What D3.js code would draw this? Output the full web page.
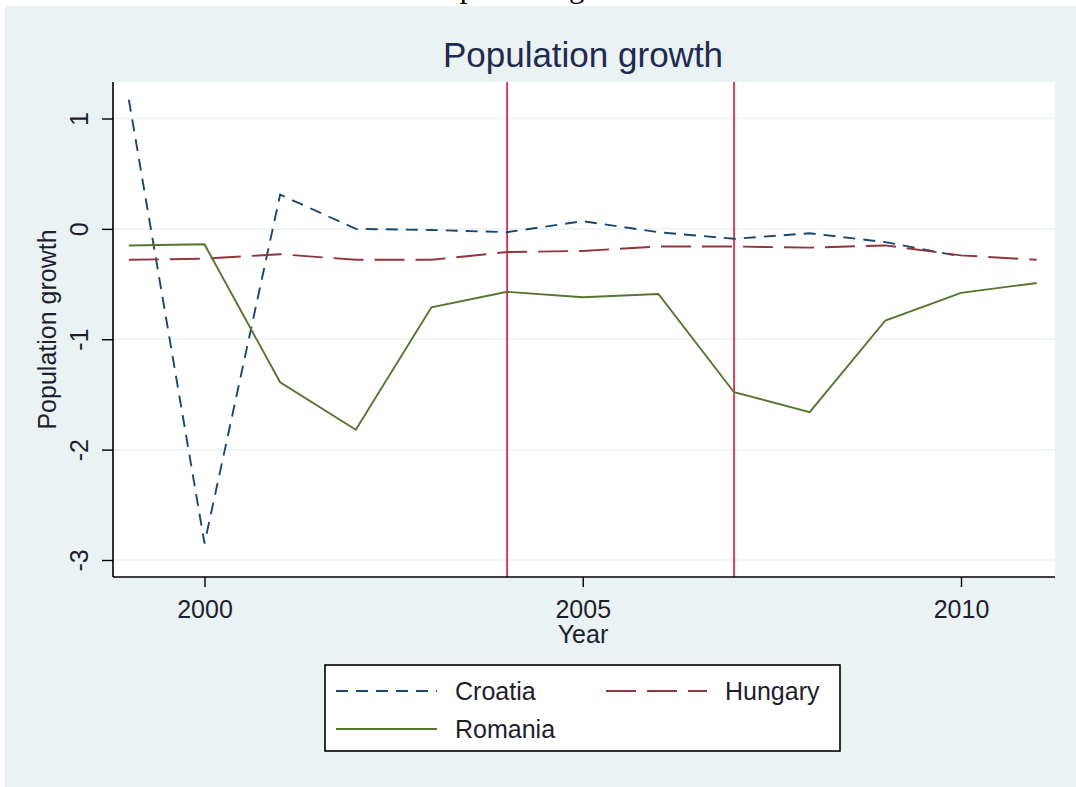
<!DOCTYPE html>
<html>
<head>
	<meta charset="utf-8">
	<title>Population growth</title>
	<script type="text/javascript" src="https://cdn.jsdelivr.net/npm/d3@7"></script>
	<style>
		body { margin: 0; background: #fff; }
		text { font-family: "Liberation Sans", Arial, sans-serif; fill: #1e1e2e; }
	</style>
</head>
<body>
	<script type="text/javascript">
		var width = 1076,
			height = 787;

		// data
		var years = [1999, 2000, 2001, 2002, 2003, 2004, 2005, 2006, 2007, 2008, 2009, 2010, 2011];
		var croatia = [1.17, -2.85, 0.31, 0.00, -0.01, -0.03, 0.07, -0.03, -0.09, -0.04, -0.12, -0.25];
		var hungary = [-0.28, -0.27, -0.23, -0.28, -0.28, -0.21, -0.20, -0.16, -0.16, -0.17, -0.15, -0.24, -0.28];
		var romania = [-0.15, -0.14, -1.39, -1.82, -0.71, -0.57, -0.62, -0.59, -1.48, -1.66, -0.83, -0.58, -0.49];
		var eventYears = [2004, 2007];
		var yTicks = [1, 0, -1, -2, -3];
		var xTicks = [2000, 2005, 2010];

		var series = [
			{name : 'Croatia', values : croatia, color : '#1a476f', dash : '12,8'},
			{name : 'Hungary', values : hungary, color : '#90353b', dash : '30,11'},
			{name : 'Romania', values : romania, color : '#55752f', dash : null}
		];

		var svg = d3.select('body')
					.append('svg')
					.attr('width', width)
					.attr('height', height);

		// cut off caption above the chart
		svg.append('text')
			.attr('x', 427)
			.attr('y', -3)
			.style('font-family', '"Liberation Serif", "Times New Roman", serif')
			.style('font-size', '31px')
			.style('fill', '#000')
			.text('Population growth');

		// outer graph region
		svg.append('rect')
			.attr('x', 5).attr('y', 6)
			.attr('width', width - 5).attr('height', height - 6)
			.attr('fill', '#eaf2f3');

		var plot = {left : 113, right : 1055, top : 82, bottom : 577};

		svg.append('rect')
			.attr('x', plot.left).attr('y', plot.top)
			.attr('width', plot.right - plot.left).attr('height', plot.bottom - plot.top)
			.attr('fill', '#fff');

		var x = d3.scaleLinear().domain([2000, 2010]).range([204.5, 961]);
		var y = d3.scaleLinear().domain([1, -3]).range([118.5, 560]);

		// grid
		svg.selectAll('.grid')
			.data(yTicks)
			.enter().append('line')
			.attr('class', 'grid')
			.attr('x1', plot.left).attr('x2', plot.right)
			.attr('y1', function(d){ return y(d); })
			.attr('y2', function(d){ return y(d); })
			.attr('stroke', '#eaf2f3')
			.attr('stroke-width', 1.5);

		// vertical event lines
		svg.selectAll('.event')
			.data(eventYears)
			.enter().append('line')
			.attr('class', 'event')
			.attr('x1', function(d){ return x(d); })
			.attr('x2', function(d){ return x(d); })
			.attr('y1', plot.top).attr('y2', plot.bottom)
			.attr('stroke', '#d7163e')
			.attr('stroke-width', 1.6);

		// series lines
		var line = d3.line()
					.x(function(d, i){ return x(years[i]); })
					.y(function(d){ return y(d); });

		svg.selectAll('.series')
			.data(series)
			.enter().append('path')
			.attr('class', 'series')
			.attr('d', function(d){ return line(d.values); })
			.attr('fill', 'none')
			.attr('stroke', function(d){ return d.color; })
			.attr('stroke-width', 1.9)
			.attr('stroke-dasharray', function(d){ return d.dash; });

		var plain = function(d){ return String(d); };

		// y axis
		var yAxis = d3.axisLeft(y).tickValues(yTicks).tickSize(11).tickFormat(plain);
		var gy = svg.append('g')
					.attr('transform', 'translate(' + plot.left + ',0)')
					.call(yAxis);
		gy.select('.domain').remove();
		gy.append('line')
			.attr('x1', 0).attr('x2', 0)
			.attr('y1', plot.top).attr('y2', plot.bottom)
			.attr('stroke', '#000').attr('stroke-width', 1.6);
		gy.selectAll('.tick line').attr('stroke', '#000').attr('stroke-width', 1.4);
		gy.selectAll('.tick text')
			.attr('x', 0).attr('y', 0)
			.attr('dy', null)
			.attr('transform', 'translate(-25,0) rotate(-90)')
			.attr('text-anchor', 'middle')
			.style('font-size', '25px')
			.style('fill', '#1e1e2e')
			.style('font-family', '"Liberation Sans", Arial, sans-serif');

		// x axis
		var xAxis = d3.axisBottom(x).tickValues(xTicks).tickSize(10).tickFormat(plain);
		var gx = svg.append('g')
					.attr('transform', 'translate(0,' + plot.bottom + ')')
					.call(xAxis);
		gx.select('.domain').remove();
		gx.append('line')
			.attr('x1', plot.left).attr('x2', plot.right)
			.attr('y1', 0).attr('y2', 0)
			.attr('stroke', '#000').attr('stroke-width', 1.6);
		gx.selectAll('.tick line').attr('stroke', '#000').attr('stroke-width', 1.4);
		gx.selectAll('.tick text')
			.attr('y', 41).attr('dy', null)
			.style('font-size', '25px')
			.style('fill', '#1e1e2e')
			.style('font-family', '"Liberation Sans", Arial, sans-serif');

		// titles
		svg.append('text')
			.attr('x', 583).attr('y', 67)
			.attr('text-anchor', 'middle')
			.style('font-size', '35px')
			.style('fill', '#1e2b4f')
			.text('Population growth');

		svg.append('text')
			.attr('x', 583).attr('y', 643)
			.attr('text-anchor', 'middle')
			.style('font-size', '25px')
			.text('Year');

		svg.append('text')
			.attr('transform', 'translate(56,' + ((plot.top + plot.bottom) / 2) + ') rotate(-90)')
			.attr('text-anchor', 'middle')
			.style('font-size', '25px')
			.text('Population growth');

		// legend
		var legend = svg.append('g');
		legend.append('rect')
			.attr('x', 325).attr('y', 665)
			.attr('width', 515).attr('height', 86)
			.attr('fill', '#fff')
			.attr('stroke', '#000')
			.attr('stroke-width', 1.6);

		var legendPos = [
			{x : 336, y : 691},
			{x : 606, y : 691},
			{x : 336, y : 729}
		];

		var items = legend.selectAll('.item')
						.data(series)
						.enter().append('g')
						.attr('class', 'item')
						.attr('transform', function(d, i){
							return 'translate(' + legendPos[i].x + ',' + legendPos[i].y + ')';
						});
		items.append('line')
			.attr('x1', 0).attr('x2', 101)
			.attr('y1', 0).attr('y2', 0)
			.attr('stroke', function(d){ return d.color; })
			.attr('stroke-width', 1.8)
			.attr('stroke-dasharray', function(d){ return d.dash; });
		items.append('text')
			.attr('x', 119).attr('y', 9)
			.style('font-size', '25px')
			.text(function(d){ return d.name; });
	</script>
</body>
</html>
